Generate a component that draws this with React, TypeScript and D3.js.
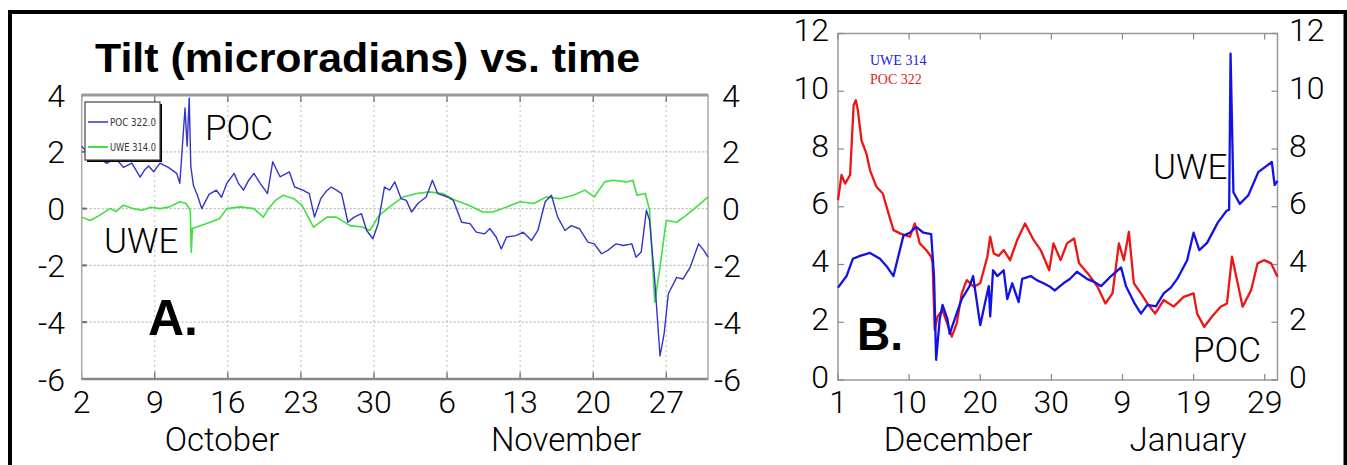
import React from 'react';
import * as d3 from 'd3';

// Panel A: days since Oct 2, tilt in microradians
const pocA: [number, number][] = [
  [0, 2.2], [0.5, 2.0], [1.2, 1.9], [1.8, 1.75], [2.4, 1.59], [3.2, 1.8], [4.0, 1.45], [4.8, 1.6], [5.6, 1.11],
  [6.0, 1.35], [6.4, 1.5], [6.9, 1.3], [7.5, 1.6], [8.3, 1.45], [9.1, 1.24], [9.4, 0.89], [9.9, 3.54], [10.1, 2.2], [10.3, 3.9],
  [10.45, 1.5], [10.7, 0.82], [11.1, 0.45], [11.5, 0.0], [12.2, 0.5], [12.9, 0.65], [13.4, 0.4], [13.9, 0.89],
  [14.6, 1.24], [15.0, 0.9], [15.5, 0.65], [16.0, 1.0], [16.5, 1.24], [17.1, 0.89], [17.8, 0.53], [18.3, 1.65],
  [19.0, 1.12], [19.9, 1.29], [20.4, 0.76], [21.2, 0.65], [21.8, 0.53], [22.3, -0.3], [22.9, 0.35],
  [23.4, 0.6], [23.9, 0.76], [24.4, 0.65], [24.9, 0.53], [25.5, -0.48], [26.1, -0.3], [26.8, -0.18], [27.3, -0.77], [27.9, -1.06],
  [28.4, -0.53], [29.0, 0.76], [29.5, 0.65], [30.0, 0.94], [30.6, 0.35], [31.1, 0.29], [31.6, -0.12],
  [32.2, 0.18], [33.0, 0.41], [33.6, 1.0], [34.1, 0.53], [34.6, 0.47], [35.1, 0.4], [35.6, 0.29], [36.4, -0.48],
  [37.2, -0.53], [37.8, -0.83], [38.6, -0.89], [39.1, -0.7], [39.7, -1.0], [40.2, -1.42], [40.7, -1.0], [41.6, -0.95],
  [42.3, -0.83], [43.1, -1.12], [43.7, -0.77], [44.4, 0.24], [45.0, 0.47], [45.6, -0.3], [46.3, -0.77],
  [46.9, -0.6], [47.7, -0.71], [48.5, -1.18], [49.1, -1.24], [49.8, -1.59], [50.4, -1.47], [51.2, -1.24],
  [51.9, -1.3], [52.7, -1.24], [53.1, -1.71], [53.6, -1.53], [54.1, -0.06], [54.4, -0.41], [54.9, -2.54],
  [55.4, -5.19], [55.8, -4.4], [56.2, -3.0], [57.0, -2.42], [57.6, -2.48], [58.3, -2.06], [59.1, -1.24],
  [59.6, -1.47], [60, -1.71],
];
const uweA: [number, number][] = [
  [0, -0.3], [0.8, -0.42], [1.7, -0.24], [2.7, 0.0], [3.3, -0.1], [4.0, 0.12], [4.9, 0.0], [5.8, -0.06],
  [6.6, 0.05], [7.5, 0.0], [8.4, 0.06], [9.4, 0.24], [10.0, 0.18], [10.4, -0.06], [10.5, -1.54],
  [10.6, -0.7], [11.9, -0.53], [13.2, -0.36], [13.9, 0.0], [15.2, 0.06], [16.5, 0.0], [17.4, -0.3],
  [18.0, 0.05], [18.6, 0.3], [19.3, 0.47], [20.3, 0.35], [21.1, 0.12], [22.2, -0.65], [23.5, -0.3],
  [24.4, -0.3], [25.7, -0.6], [26.9, -0.65], [27.6, -0.77], [28.5, -0.24], [29.5, 0.06], [30.8, 0.41],
  [32.1, 0.53], [33.3, 0.59], [34.6, 0.53], [35.8, 0.29], [37.1, 0.12], [38.4, -0.12], [39.4, -0.12],
  [40.7, 0.06], [42.0, 0.24], [43.3, 0.18], [44.5, 0.41], [45.8, 0.35], [47.1, 0.47], [48.2, 0.65],
  [49.1, 0.41], [50.1, 0.94], [50.9, 1.0], [52.2, 0.94], [52.8, 1.0], [53.2, 0.47], [54.0, 0.53],
  [54.4, -0.06], [54.9, -3.3], [55.4, -2.06], [56.0, -0.41], [57.0, -0.48], [57.9, -0.24], [58.9, 0.06],
  [60, 0.41],
];
const xTicksA = [0, 7, 14, 21, 28, 35, 42, 49, 56];
const xLabelsA = ['2', '9', '16', '23', '30', '6', '13', '20', '27'];
const yTicksA = [-6, -4, -2, 0, 2, 4];

// Panel B: days since Nov 30
const uweB: [number, number][] = [
  [0, 3.2], [1.2, 3.6], [2.1, 4.2], [3.1, 4.3], [4.5, 4.4], [5.9, 4.2], [6.8, 3.95], [7.8, 3.6],
  [8.5, 4.3], [9.2, 5.0], [10.1, 5.1], [11.0, 5.3], [12.0, 5.1], [13.1, 5.05], [13.5, 3.6], [13.8, 0.7],
  [14.3, 2.1], [14.7, 2.6], [15.4, 2.1], [15.7, 1.6], [16.4, 2.1], [17.4, 2.8], [18.5, 3.25], [19.0, 3.6],
  [20.0, 1.9], [20.7, 2.7], [21.2, 3.25], [21.4, 2.2], [21.8, 3.8], [22.4, 3.6], [23.3, 3.8], [23.8, 2.8],
  [24.5, 3.35], [25.4, 2.7], [25.9, 3.5], [27.1, 3.6], [28.0, 3.45], [28.9, 3.35], [29.7, 3.25], [30.5, 3.1], [31.7, 3.35],
  [32.6, 3.5], [33.6, 3.75], [35.0, 3.5], [36.0, 3.4], [37.0, 3.25], [38.4, 3.6], [39.8, 3.9], [40.5, 3.25], [41.7, 2.65],
  [42.6, 2.3], [43.5, 2.6], [44.7, 2.55], [45.8, 3.0], [46.8, 3.2], [47.7, 3.5], [49.1, 4.15], [50.0, 5.1], [50.8, 4.5],
  [51.9, 4.75], [53.4, 5.45], [54.6, 5.85], [55.0, 5.9], [55.2, 11.3], [55.6, 6.5], [56.5, 6.1],
  [57.7, 6.4], [59.1, 7.2], [61.0, 7.55], [61.4, 6.75], [61.8, 6.9],
];
const pocB: [number, number][] = [
  [0, 6.23], [0.5, 7.1], [1.0, 6.8], [1.7, 7.1], [2.2, 9.52], [2.5, 9.69], [2.8, 9.34], [3.3, 8.3],
  [4.0, 7.84], [4.5, 7.27], [5.4, 6.69], [6.3, 6.46], [7.1, 5.77], [7.8, 5.19], [8.8, 5.07], [10.1, 4.96],
  [10.8, 5.42], [11.5, 4.73], [12.4, 4.5], [13.1, 4.27], [13.3, 4.04], [13.6, 1.73], [14.0, 2.2],
  [14.7, 2.42], [16.0, 1.5], [16.7, 1.96], [17.4, 3.0], [18.1, 3.46], [19.1, 3.23], [20.0, 3.35],
  [21.0, 4.27], [21.4, 4.96], [21.9, 4.38], [22.6, 4.3], [23.3, 4.5], [24.2, 4.15], [25.2, 4.85], [26.3, 5.42],
  [27.5, 4.85], [28.5, 4.5], [29.7, 3.8], [30.3, 4.73], [31.3, 4.15], [32.2, 4.73], [33.2, 4.9],
  [33.9, 4.04], [35.1, 3.7], [36.5, 3.23], [37.6, 2.65], [38.6, 3.0], [39.5, 4.73], [40.2, 4.15],
  [40.9, 5.13], [41.6, 3.35], [42.6, 3.0], [43.5, 2.65], [44.6, 2.3], [45.8, 2.77], [47.2, 2.54],
  [48.6, 2.88], [50.0, 3.0], [50.5, 2.3], [51.5, 1.84], [52.6, 2.2], [53.8, 2.54], [54.7, 2.65],
  [55.4, 4.27], [56.2, 3.35], [56.9, 2.54], [58.1, 3.12], [59.0, 4.04], [59.9, 4.15], [60.9, 4.04],
  [61.8, 3.58],
];
const xTicksB = [0, 10, 20, 30, 40, 50, 60];
const xLabelsB = ['1', '10', '20', '30', '9', '19', '29'];
const yTicksB = [0, 2, 4, 6, 8, 10, 12];

const FONT = "Roboto, 'DejaVu Sans', sans-serif";

export default function App() {
  const xA = d3.scaleLinear().domain([0, 60]).range([81.7, 708]);
  const yA = d3.scaleLinear().domain([-6, 4]).range([379, 95]);
  const xB = d3.scaleLinear().domain([0, 61.8]).range([838, 1277.5]);
  const yB = d3.scaleLinear().domain([0, 12]).range([380, 33.5]);

  const lineA = d3.line<[number, number]>().x(d => xA(d[0])).y(d => yA(d[1]));
  const lineB = d3.line<[number, number]>().x(d => xB(d[0])).y(d => yB(d[1]));

  const tickFont = { fontFamily: FONT, fontWeight: 300, fontSize: 32, fill: '#000' } as const;
  const bold = { fontFamily: "'Liberation Sans', Arial, sans-serif", fontWeight: 700 } as const;

  return (
    <svg width={1347} height={465} style={{ position: 'absolute', left: 0, top: 0, background: '#fff' }}>
      <rect x={10} y={12} width={1335.5} height={470} fill="#fff" stroke="#000" strokeWidth={4} />

      {/* ---------- Panel A ---------- */}
      <text x={95} y={72} style={{ ...bold, fontSize: 40 }} textLength={545} lengthAdjust="spacingAndGlyphs">
        Tilt (microradians) vs. time
      </text>

      <g>
        {yTicksA.filter(v => v > -6 && v < 4).map(v => (
          <line key={'gy' + v} x1={xA(0)} x2={xA(60)} y1={yA(v)} y2={yA(v)} stroke="#bbb" strokeWidth={1.2} strokeDasharray="2,2" />
        ))}
        {xTicksA.filter(d => d > 0).map(d => (
          <line key={'gx' + d} x1={xA(d)} x2={xA(d)} y1={yA(4)} y2={yA(-6)} stroke="#bbb" strokeWidth={1} strokeDasharray="2,3" />
        ))}
        {xTicksA.map(d => (
          <g key={'tx' + d}>
            <line x1={xA(d)} x2={xA(d)} y1={yA(4)} y2={yA(4) + 7} stroke="#666" strokeWidth={1.2} />
            <line x1={xA(d)} x2={xA(d)} y1={yA(-6)} y2={yA(-6) - 7} stroke="#666" strokeWidth={1.2} />
          </g>
        ))}
        {yTicksA.map(v => (
          <line key={'ty' + v} x1={xA(0)} x2={xA(0) + 5} y1={yA(v)} y2={yA(v)} stroke="#666" strokeWidth={2} />
        ))}
        <rect x={xA(0)} y={yA(4)} width={xA(60) - xA(0)} height={yA(-6) - yA(4)} fill="none" stroke="#aaa" strokeWidth={1.5} />
        <line x1={xA(0)} x2={xA(60)} y1={yA(4)} y2={yA(4)} stroke="#999" strokeWidth={3} />
        <line x1={xA(0)} x2={xA(60)} y1={yA(-6)} y2={yA(-6)} stroke="#888" strokeWidth={2.5} />

        <path d={lineA(uweA) ?? ''} fill="none" stroke="#3fe03f" strokeWidth={1.6} strokeLinejoin="round" />
        <path d={lineA(pocA) ?? ''} fill="none" stroke="#3434c8" strokeWidth={1.4} strokeLinejoin="round" />

        {/* legend */}
        <rect x={87} y={104} width={75} height={58} fill="#000" />
        <rect x={85} y={102} width={75} height={58} fill="#fff" stroke="#444" strokeWidth={1.2} />
        <line x1={88} x2={108} y1={122} y2={122} stroke="#3434c8" strokeWidth={1.5} />
        <line x1={88} x2={108} y1={147} y2={147} stroke="#3fe03f" strokeWidth={2} />
        <text x={110} y={126} textLength={46} lengthAdjust="spacingAndGlyphs" style={{ fontFamily: "'Liberation Sans Narrow', 'DejaVu Sans Condensed', sans-serif", fontSize: 11, fill: '#333' }}>POC 322.0</text>
        <text x={110} y={151} textLength={46} lengthAdjust="spacingAndGlyphs" style={{ fontFamily: "'Liberation Sans Narrow', 'DejaVu Sans Condensed', sans-serif", fontSize: 11, fill: '#333' }}>UWE 314.0</text>

        {yTicksA.map(v => (
          <text key={'la' + v} x={65} y={yA(v)} dy="0.36em" textAnchor="end" style={tickFont}>{v}</text>
        ))}
        {yTicksA.map(v => (
          <text key={'ra' + v} x={v < 0 ? 714 : 722} y={yA(v)} dy="0.36em" style={tickFont}>{v}</text>
        ))}
        {xTicksA.map((d, i) => (
          <text key={'xa' + d} x={xA(d)} y={413} textAnchor="middle" style={tickFont}>{xLabelsA[i]}</text>
        ))}
        <text x={222} y={451} textAnchor="middle" style={{ ...tickFont, fontSize: 33 }}>October</text>
        <text x={566} y={451} textAnchor="middle" style={{ ...tickFont, fontSize: 33 }}>November</text>

        <text x={205} y={140} style={{ ...tickFont, fontSize: 35 }}>POC</text>
        <text x={104} y={253} style={{ ...tickFont, fontSize: 35 }}>UWE</text>
        <text x={148} y={335} style={{ ...bold, fontSize: 50 }}>A.</text>
      </g>

      {/* ---------- Panel B ---------- */}
      <g>
        <rect x={xB(0)} y={yB(12)} width={xB(61.8) - xB(0)} height={yB(0) - yB(12)} fill="none" stroke="#999" strokeWidth={1.5} />
        {xTicksB.map(d => (
          <g key={'tbx' + d}>
            <line x1={xB(d)} x2={xB(d)} y1={yB(0)} y2={yB(0) - 6} stroke="#888" strokeWidth={1.2} />
            <line x1={xB(d)} x2={xB(d)} y1={yB(12)} y2={yB(12) + 6} stroke="#888" strokeWidth={1.2} />
          </g>
        ))}
        {yTicksB.map(v => (
          <g key={'tby' + v}>
            <line x1={xB(0)} x2={xB(0) + 6} y1={yB(v)} y2={yB(v)} stroke="#888" strokeWidth={1.2} />
            <line x1={xB(61.8)} x2={xB(61.8) - 6} y1={yB(v)} y2={yB(v)} stroke="#888" strokeWidth={1.2} />
          </g>
        ))}

        <path d={lineB(pocB) ?? ''} fill="none" stroke="#ee1515" strokeWidth={2.3} strokeLinejoin="round" />
        <path d={lineB(uweB) ?? ''} fill="none" stroke="#1212e6" strokeWidth={2.3} strokeLinejoin="round" />

        <text x={870} y={65} style={{ fontFamily: "'Liberation Serif', serif", fontSize: 14, fill: '#2222cc' }}>UWE 314</text>
        <text x={870} y={84} style={{ fontFamily: "'Liberation Serif', serif", fontSize: 14, fill: '#dd2222' }}>POC 322</text>

        {yTicksB.map(v => (
          <text key={'lb' + v} x={829} y={yB(v) - 4} dy="0.36em" textAnchor="end" style={tickFont}>{v}</text>
        ))}
        {yTicksB.map(v => (
          <text key={'rb' + v} x={1289} y={yB(v) - 4} dy="0.36em" style={tickFont}>{v}</text>
        ))}
        {xTicksB.map((d, i) => (
          <text key={'xb' + d} x={xB(d)} y={413} textAnchor="middle" style={tickFont}>{xLabelsB[i]}</text>
        ))}
        <text x={958} y={451} textAnchor="middle" style={{ ...tickFont, fontSize: 33 }}>December</text>
        <text x={1188} y={451} textAnchor="middle" style={{ ...tickFont, fontSize: 33 }}>January</text>

        <text x={1153} y={179} style={{ ...tickFont, fontSize: 35 }}>UWE</text>
        <text x={1193} y={362} style={{ ...tickFont, fontSize: 35 }}>POC</text>
        <text x={857} y={350} style={{ ...bold, fontSize: 46 }}>B.</text>
      </g>
    </svg>
  );
}
